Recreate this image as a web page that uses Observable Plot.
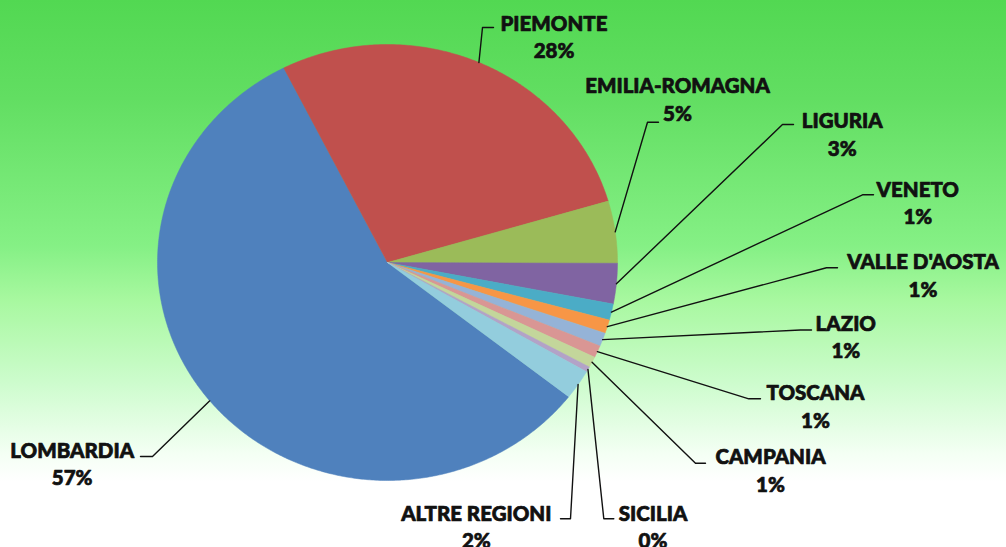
<!DOCTYPE html>
<html>
<head>
<meta charset="utf-8">
<script src="https://cdn.jsdelivr.net/npm/d3@7"></script>
<script src="https://cdn.jsdelivr.net/npm/@observablehq/plot@0.6"></script>
<style>
  html, body { margin: 0; padding: 0; background: #fff; }
  #chart svg { display: block; }
</style>
</head>
<body>
<div id="chart"></div>
<script>
// ---- data ----
const regions = ["LOMBARDIA", "PIEMONTE", "EMILIA-ROMAGNA", "LIGURIA", "VENETO", "VALLE D'AOSTA", "LAZIO", "TOSCANA", "CAMPANIA", "SICILIA", "ALTRE REGIONI"];
const shares = [57.0, 27.9, 4.6, 3.0, 1.2, 1.0, 1.0, 0.9, 0.8, 0.4, 2.2];
const colors = ["#4F81BD", "#C0504D", "#9BBB59", "#8064A2", "#4BACC6", "#F79646", "#95B3D7", "#D99694", "#C3D69B", "#B3A2C7", "#93CDDD"];

// ---- layout (chart units = pixels of the drawing area) ----
const pie = {cx: 387, cy: 262, rx: 230, ry: 218, startDeg: 128};
const labelElbows = [[152, 456], [482, 27], [647, 121.7], [782, 124], [862, 194.3], [826, 267.3], [800, 329.5], [748.3, 398.3], [695, 462.7], [603.3, 518.3], [570, 518.3]];
const labelEnds = [[140, 456], [493, 27], [658, 121.7], [793, 124], [873, 194.3], [837, 267.3], [811, 329.5], [760, 398.3], [705, 462.7], [613.3, 518.3], [560, 518.3]];
const labelText = [[71.7, 457], [553.5, 30], [677, 92.3], [841.7, 127.3], [917.3, 196], [922.5, 268.3], [845.3, 330], [815, 399.3], [770, 463.3], [652.5, 520], [475.8, 520]];
const lineGap = 27.7;

const W = 1006, H = 547;
const total = d3.sum(shares);
const pt = (deg, k = 1) => {
  const a = deg * Math.PI / 180;
  return [pie.cx + k * pie.rx * Math.sin(a), pie.cy - k * pie.ry * Math.cos(a)];
};

// slice polygons
const slicePts = [];
const leaderPts = [];
const labels = [];
let acc = pie.startDeg;
regions.forEach((name, i) => {
  const span = shares[i] / total * 360;
  const a0 = acc, a1 = acc + span;
  slicePts.push({name, x: pie.cx, y: pie.cy});
  const n = Math.max(2, Math.ceil(span / 0.5));
  for (let j = 0; j <= n; j++) {
    const [x, y] = pt(a0 + (a1 - a0) * j / n);
    slicePts.push({name, x, y});
  }
  slicePts.push({name, x: pie.cx, y: pie.cy});
  const [ex, ey] = pt((a0 + a1) / 2);
  leaderPts.push({name, x: ex, y: ey});
  leaderPts.push({name, x: labelElbows[i][0], y: labelElbows[i][1]});
  leaderPts.push({name, x: labelEnds[i][0], y: labelEnds[i][1]});
  labels.push({name, pct: Math.round(shares[i] / total * 100) + "%", x: labelText[i][0], y: labelText[i][1]});
  acc = a1;
});

const font = "Lato, 'Open Sans', sans-serif";
const textOpts = {x: "x", y: "y", lineAnchor: "bottom", textAnchor: "middle", fontSize: 20.5, fontWeight: 900, fontFamily: font, fill: "#111", stroke: "#111", strokeWidth: 0.7, letterSpacing: "-0.3px"};
const chart = Plot.plot({
  width: W,
  height: H,
  margin: 0,
  x: {domain: [0, W], range: [0, W], axis: null},
  y: {domain: [0, H], range: [0, H], axis: null},
  color: {domain: regions, range: colors},
  style: {
    background: "linear-gradient(to bottom, #52d852 0%, #62de62 18%, #85f085 45%, #a8f8a0 55%, #cdfccd 70%, #f4fff4 83%, #ffffff 88%, #ffffff 100%)",
    overflow: "visible"
  },
  marks: [
    Plot.line(slicePts, {x: "x", y: "y", z: "name", fill: "name", stroke: "name", strokeWidth: 0.5, curve: "linear"}),
    Plot.line(leaderPts, {x: "x", y: "y", z: "name", stroke: "#111", strokeWidth: 1.4, curve: "linear"}),
    Plot.text(labels, {...textOpts, text: "name"}),
    Plot.text(labels, {...textOpts, dy: lineGap, text: "pct"})
  ]
});
document.getElementById("chart").appendChild(chart);
</script>
</body>
</html>
